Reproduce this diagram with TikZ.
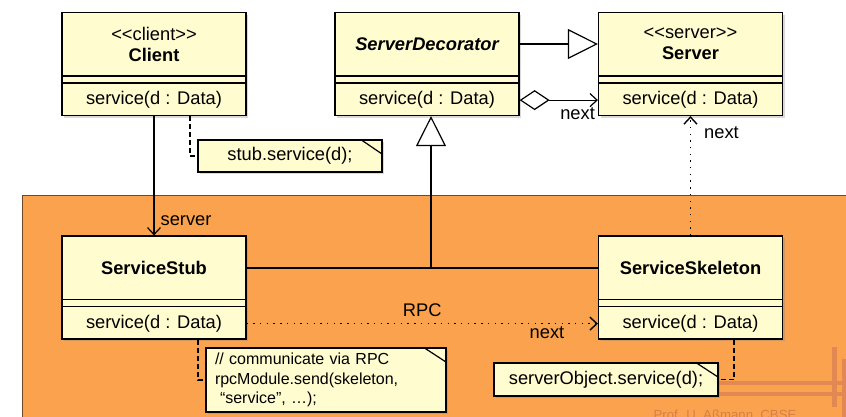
\documentclass[tikz,border=0pt]{standalone}
\usepackage{fontspec}
\setmainfont{Liberation Sans}
\usetikzlibrary{arrows.meta,shadows}
\definecolor{boxfill}{RGB}{255,252,208}
\definecolor{slideorange}{RGB}{250,162,77}
\definecolor{slideedge}{RGB}{110,72,40}
\definecolor{decoline}{RGB}{226,136,82}
\definecolor{footcol}{RGB}{214,128,72}
\newcommand\classbody[1]{%
  \draw ([yshift=-64pt]#1.north west) -- ([yshift=-64pt]#1.north east);
  \draw ([yshift=-71pt]#1.north west) -- ([yshift=-71pt]#1.north east);
  \node[txt] (#1op) at ([yshift=16pt]#1.south) {service(d : Data)};}

\begin{document}
\begin{tikzpicture}[x=1pt, y=-1pt, line width=1.2pt,
  cls/.style={draw, fill=boxfill, minimum width=184pt, minimum height=103pt, inner sep=0pt,
    drop shadow={shadow xshift=2pt, shadow yshift=-2pt, opacity=0.3}},
  note/.style={draw, fill=boxfill, inner sep=0pt,
    drop shadow={shadow xshift=2pt, shadow yshift=-2pt, opacity=0.3}},
  txt/.style={inner sep=0pt},
  lbl/.style={inner sep=2pt},
  gen/.style={-{Triangle[fill=white, length=30pt, width=30pt]}},
  nav/.style={-{Straight Barb[length=7pt, width=13pt]}},
  agg/.style={{Diamond[fill=white, length=30pt, width=20pt]}-{Straight Barb[length=7pt, width=13pt]}},
  dep/.style={line width=1.4pt, dash pattern=on 1.4pt off 5.3pt},
  link/.style={line width=1.2pt, dash pattern=on 5pt off 3pt}]

  \fontsize{18.3}{21}\selectfont

  \useasboundingbox (0,0) rectangle (846,416);

  %% slide background
  \draw[fill=slideorange, draw=slideedge, line width=0.8pt] (22,195) rectangle (870,440);
  \draw[decoline, line width=4.5pt] (718,383) -- (846,383);
  \draw[decoline, line width=4.5pt] (718,394) -- (846,394);
  \draw[decoline, line width=4.5pt] (834.5,347) -- (834.5,407);
  \draw[decoline, line width=4.5pt] (844.5,359) -- (844.5,430);
  \node[anchor=base west, inner sep=0pt, text=footcol, font=\fontsize{13.2}{15}\selectfont]
    (footer) at (653,419) {Prof. U. Aßmann, CBSE};

  %% classes
  \node[cls] (client) at (154,64) {};
  \node[txt, align=center] (clientname) at (154,44) {<{}<client>{}>\\\textbf{Client}};
  \classbody{client}

  \node[cls] (dec) at (427,64) {};
  \node[txt, font=\bfseries\itshape] (decname) at (427,44) {ServerDecorator};
  \classbody{dec}

  \node[cls] (server) at (690.5,64) {};
  \node[txt, align=center] (servername) at (690.5,44) {<{}<server>{}>\\\textbf{Server}};
  \classbody{server}

  \node[cls] (stub) at (154,287.5) {};
  \node[txt, font=\bfseries] (stubname) at (154,268) {ServiceStub};
  \classbody{stub}

  \node[cls] (skel) at (690.5,287.5) {};
  \node[txt, font=\bfseries] (skelname) at (690.5,268) {ServiceSkeleton};
  \classbody{skel}

  %% notes
  \node[note, minimum width=184pt, minimum height=32pt] (clientnote) at (290,156) {stub.service(d);};
  \draw ([xshift=-22pt]clientnote.north east) -- ([yshift=-15pt]clientnote.north east);

  \node[note, minimum width=240pt, minimum height=64pt, text width=222pt, align=left,
    inner xsep=9pt, font=\fontsize{16}{19.5}\selectfont] (stubnote) at (326,380)
    {// communicate via RPC\\rpcModule.send(skeleton,\\\hspace*{5pt}“service”, …);};
  \draw ([xshift=-23pt]stubnote.north east) -- ([yshift=-15pt]stubnote.north east);

  \node[note, minimum width=224pt, minimum height=33pt] (skelnote) at (606,379.5) {serverObject.service(d);};
  \draw ([xshift=-23pt]skelnote.north east) -- ([yshift=-15pt]skelnote.north east);

  %% connectors
  \draw[gen] (dec.east |- decname) -- (server.west |- decname); %% dec->server
  \draw[agg] (dec.east |- decop) -- node[lbl, below, pos=0.74, yshift=-5pt]{next} (server.west |- serverop);

  \draw[nav] (client.south) -- node[lbl, pos=1, anchor=south west, xshift=4pt, yshift=7pt]{server} (stub.north);

  \coordinate (join) at (431,268);
  \draw (stub.east |- join) -- (skel.west |- join); %% stub--skel
  \draw[gen] (join) -- (join |- dec.south); %% ->dec

  \draw[nav, dep] (stubop -| stub.east) -- node[lbl, above=4pt]{RPC} node[lbl, below, pos=0.855]{next} (skelop -| skel.west);
  \draw[nav, dep] (skel.north) -- node[lbl, right, pos=0.858, xshift=11pt]{next} (server.south);

  \draw[link] ([xshift=36pt]client.south) |- (clientnote.west);
  \draw[link] ([xshift=44pt]stub.south) |- (stubnote.west);
  \draw[link] ([xshift=43.5pt]skel.south) |- (skelnote.east);

\end{tikzpicture}
\end{document}
